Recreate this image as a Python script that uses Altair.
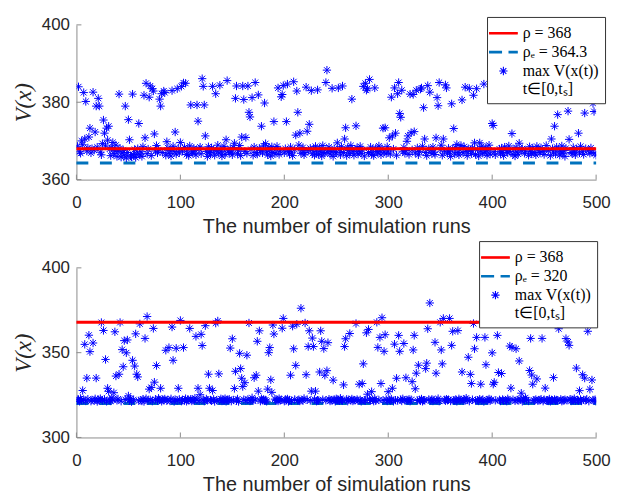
import altair as alt
import pandas as pd

runs = list(range(1, 501))
x_ticks = [0, 100, 200, 300, 400, 500]

top_rho = 368
top_rho_e = 364.3
top_y_ticks = [360, 380, 400]
bot_rho = 368
bot_rho_e = 320
bot_y_ticks = [300, 350, 400]

top_values = [
    368.6, 384.0, 367.2, 366.8, 370.0, 369.0, 382.5, 370.5, 380.2, 367.4, 368.2, 371.0, 373.3, 366.9, 368.0, 382.6, 367.6, 372.3, 379.0, 368.4,
    381.0, 379.0, 367.1, 366.4, 369.3, 375.4, 372.0, 368.7, 373.3, 370.2, 373.8, 367.9, 366.2, 368.3, 369.6, 366.7, 367.5, 368.9, 366.0, 367.3,
    382.1, 368.1, 365.8, 366.9, 367.6, 366.3, 379.0, 365.6, 367.0, 375.5, 370.3, 366.1, 365.9, 382.1, 366.5, 367.8, 365.7, 366.6, 368.0, 374.5,
    366.4, 367.2, 366.0, 368.5, 381.8, 370.8, 384.9, 366.7, 367.9, 381.3, 384.2, 366.2, 383.5, 382.9, 371.8, 367.4, 368.8, 366.9, 367.7, 380.8,
    379.0, 382.2, 367.0, 382.9, 382.5, 366.3, 369.8, 368.2, 366.8, 367.5, 366.1, 383.0, 368.6, 367.3, 372.3, 366.6, 383.5, 368.0, 366.9, 369.6,
    384.1, 367.4, 385.0, 368.3, 384.9, 366.5, 367.8, 366.2, 368.7, 379.3, 367.1, 366.8, 368.1, 367.6, 366.4, 379.3, 375.1, 367.9, 368.4, 366.7,
    386.1, 384.1, 379.3, 371.3, 367.3, 366.0, 368.5, 367.0, 366.6, 368.2, 384.1, 367.7, 366.3, 382.2, 367.5, 368.9, 366.8, 384.4, 367.2, 366.1,
    367.9, 368.6, 366.5, 370.3, 385.6, 367.4, 366.9, 368.0, 367.1, 366.4, 368.3, 369.4, 381.0, 384.2, 366.7, 367.6, 368.8, 366.2, 371.0, 384.2,
    380.7, 367.3, 370.9, 366.8, 384.2, 377.4, 376.2, 367.8, 381.2, 366.3, 368.4, 385.1, 367.0, 366.6, 381.9, 368.1, 367.5, 373.8, 366.9, 368.7,
    379.8, 369.3, 367.2, 366.4, 368.2, 367.7, 366.1, 368.5, 367.0, 375.0, 366.7, 367.9, 368.6, 383.7, 366.5, 367.4, 381.4, 382.0, 384.3, 366.9,
    368.0, 375.0, 384.7, 367.3, 366.6, 368.4, 367.1, 366.2, 385.3, 367.8, 371.5, 382.9, 377.4, 368.9, 372.0, 366.8, 367.6, 368.3, 366.4, 367.0,
    383.9, 372.5, 367.5, 374.3, 368.1, 383.0, 366.7, 367.9, 366.3, 368.6, 367.2, 383.2, 366.5, 368.2, 367.4, 366.1, 368.8, 367.0, 366.8, 385.1,
    388.3, 367.6, 368.4, 366.6, 367.3, 383.6, 366.0, 368.0, 367.1, 366.9, 369.5, 383.7, 367.8, 366.4, 368.5, 384.2, 367.0, 370.5, 373.4, 366.2,
    368.3, 367.5, 366.7, 368.8, 380.8, 367.2, 366.3, 367.9, 373.9, 368.2, 366.6, 367.4, 368.6, 366.8, 367.7, 384.1, 366.1, 384.9, 383.1, 383.5,
    367.0, 385.9, 368.4, 366.5, 367.8, 366.2, 383.7, 368.1, 367.3, 366.9, 368.7, 367.6, 366.4, 368.0, 373.3, 367.1, 373.4, 366.7, 368.5, 367.4,
    370.8, 366.6, 381.3, 371.3, 367.9, 383.7, 372.0, 366.3, 382.2, 385.1, 377.1, 376.1, 383.1, 367.2, 368.3, 366.8, 367.5, 369.9, 371.3, 366.5,
    382.1, 372.1, 367.7, 382.0, 372.4, 366.9, 383.1, 368.2, 366.4, 367.3, 383.4, 383.7, 368.6, 378.6, 370.5, 367.0, 366.2, 384.3, 368.0, 382.6,
    367.6, 366.7, 368.4, 367.1, 366.5, 370.8, 381.2, 379.1, 385.1, 367.8, 368.9, 366.3, 370.5, 367.4, 384.5, 383.7, 366.8, 368.1, 367.2, 366.0,
    379.6, 367.9, 373.2, 366.6, 368.3, 369.1, 367.0, 366.4, 367.7, 368.8, 380.6, 366.9, 368.5, 383.9, 367.3, 366.2, 368.0, 383.6, 367.5, 366.7,
    368.2, 381.8, 369.5, 366.5, 383.5, 367.8, 366.1, 369.5, 367.4, 368.6, 366.8, 384.7, 367.1, 368.3, 366.3, 367.6, 368.9, 366.6, 381.5, 374.5,
    374.0, 367.2, 366.4, 383.8, 382.8, 388.8, 367.9, 366.7, 368.1, 367.0, 366.2, 368.4, 382.5, 367.5, 366.9, 368.7, 367.3, 381.4, 371.9, 366.5,
    367.8, 366.1, 368.3, 367.1, 366.6, 369.4, 380.9, 367.6, 368.0, 380.9, 366.8, 367.4, 383.3, 383.8, 366.3, 368.5, 367.2, 366.7, 368.1, 381.7,
    367.0, 366.4, 368.6, 383.2, 367.7, 366.9, 368.2, 383.6, 367.3, 366.5, 384.1, 368.8, 383.6, 367.5, 382.8, 366.2, 370.5, 368.0, 367.1, 373.8,
    366.6, 368.4, 376.8, 367.8, 366.3, 367.2, 368.7, 366.8, 367.5, 366.0, 368.1, 382.5, 377.7, 370.4, 382.9, 367.0, 366.7, 368.3, 367.4, 366.4,
    367.9, 381.4, 372.0, 366.9, 368.6, 382.3, 367.2, 366.5, 377.2, 368.0, 383.3, 384.3, 367.6, 366.8, 368.2, 367.0, 379.7, 377.6, 366.9, 366.3,
]

bottom_values = [
    321.8, 322.4, 321.3, 323.0, 321.9, 327.7, 322.2, 354.9, 321.5, 335.0, 322.6, 360.3, 350.6, 321.4, 322.1, 355.7, 321.7, 322.8, 335.0, 321.2,
    322.3, 321.6, 322.9, 367.8, 321.8, 363.1, 322.5, 346.0, 321.3, 329.0, 327.2, 322.0, 321.5, 323.3, 322.2, 326.4, 362.3, 336.2, 321.9, 322.7,
    337.3, 367.8, 321.4, 351.8, 341.7, 357.1, 322.4, 349.9, 357.5, 324.5, 321.7, 322.8, 321.1, 345.5, 322.3, 342.1, 361.1, 337.3, 335.7, 321.6,
    367.0, 322.0, 321.5, 322.6, 321.2, 358.4, 322.9, 371.3, 321.8, 328.5, 322.2, 329.5, 321.4, 364.3, 332.6, 322.5, 342.4, 321.7, 323.1, 322.1,
    329.0, 321.3, 322.4, 321.9, 322.7, 351.4, 321.6, 322.2, 353.0, 321.5, 322.8, 365.1, 345.5, 321.2, 322.3, 352.6, 321.8, 329.0, 322.5, 369.0,
    321.4, 322.1, 353.0, 321.7, 322.9, 321.3, 322.4, 321.9, 364.3, 322.6, 321.5, 322.2, 321.8, 323.2, 359.6, 322.0, 329.0, 321.6, 325.2, 360.8,
    354.2, 322.3, 321.4, 365.9, 322.7, 321.9, 337.3, 329.0, 322.1, 321.6, 327.7, 322.5, 321.2, 367.4, 322.0, 368.7, 337.5, 321.8, 322.8, 321.5,
    322.4, 321.7, 322.9, 321.3, 322.2, 321.9, 322.6, 352.7, 321.4, 358.2, 322.1, 328.9, 339.0, 321.6, 322.7, 321.2, 349.6, 340.6, 334.9, 330.0,
    322.3, 332.3, 321.8, 348.5, 322.5, 367.5, 321.5, 322.0, 323.4, 321.7, 335.2, 322.2, 336.7, 356.7, 327.3, 362.9, 321.4, 322.8, 321.9, 322.4,
    321.6, 322.1, 321.3, 328.5, 350.0, 353.0, 334.0, 326.6, 366.3, 361.0, 322.6, 321.7, 322.3, 321.5, 322.9, 321.8, 322.2, 364.4, 370.2, 321.4,
    322.5, 321.9, 322.7, 321.2, 322.1, 336.7, 321.6, 365.6, 352.3, 322.4, 342.5, 366.8, 321.8, 322.3, 321.5, 376.2, 322.0, 321.7, 323.0, 367.5,
    337.0, 322.2, 353.6, 362.9, 321.8, 327.3, 358.6, 353.6, 322.5, 327.3, 321.4, 322.0, 321.7, 338.6, 362.9, 356.7, 322.3, 352.4, 336.7, 321.9,
    339.4, 355.9, 322.6, 321.5, 322.1, 321.8, 333.8, 322.4, 321.3, 322.8, 321.9, 322.2, 321.6, 323.1, 322.0, 321.7, 331.0, 353.6, 358.2, 322.5,
    321.4, 322.3, 361.3, 321.8, 322.7, 321.5, 322.1, 321.9, 367.2, 322.4, 321.6, 331.4, 322.2, 321.3, 331.8, 343.4, 322.0, 321.7, 361.7, 325.5,
    363.7, 322.5, 321.8, 327.0, 322.3, 321.4, 322.9, 321.6, 367.9, 353.1, 322.1, 359.0, 331.8, 370.6, 321.9, 350.8, 360.6, 322.4, 321.5, 327.0,
    322.2, 321.7, 322.6, 329.0, 321.3, 355.0, 322.0, 334.9, 321.8, 360.2, 350.8, 322.4, 321.5, 322.8, 355.4, 321.9, 335.2, 322.1, 321.6, 322.5,
    321.4, 322.3, 332.9, 351.6, 360.2, 328.7, 337.9, 321.8, 342.6, 322.2, 321.6, 322.7, 321.3, 322.0, 321.9, 340.6, 343.8, 364.1, 322.4, 379.3,
    321.7, 322.5, 321.5, 322.1, 356.1, 337.9, 321.8, 322.9, 321.4, 367.9, 351.6, 343.4, 370.2, 322.2, 321.6, 322.6, 321.9, 322.3, 370.2, 321.5,
    354.3, 362.6, 322.0, 321.7, 322.4, 321.3, 363.0, 322.8, 321.9, 322.2, 338.6, 321.6, 322.5, 321.8, 323.2, 322.1, 347.3, 321.4, 337.2, 331.8,
    322.3, 367.2, 352.3, 321.7, 359.0, 322.0, 321.5, 322.6, 331.4, 321.9, 322.4, 321.2, 359.0, 342.9, 322.1, 321.8, 322.7, 321.6, 322.3, 349.9,
    331.4, 332.5, 321.9, 370.6, 360.2, 338.3, 322.2, 321.5, 337.7, 322.4, 321.7, 369.3, 322.0, 321.4, 322.8, 321.9, 353.9, 329.1, 353.1, 322.3,
    369.3, 321.6, 352.3, 322.1, 321.8, 345.1, 322.5, 326.1, 321.3, 322.7, 321.9, 323.4, 322.2, 372.5, 321.5, 339.5, 358.4, 336.8, 331.4, 322.0,
    321.7, 322.4, 334.5, 321.6, 322.1, 321.9, 322.6, 358.4, 321.4, 322.3, 329.1, 321.8, 322.0, 321.5, 322.7, 321.3, 322.2, 321.9, 335.3, 322.4,
    321.6, 322.1, 321.8, 364.1, 368.8, 322.5, 321.4, 322.0, 321.7, 322.3, 358.3, 321.9, 356.3, 354.3, 322.6, 321.5, 322.2, 321.8, 322.9, 321.6,
    340.9, 322.0, 321.7, 327.6, 322.4, 321.5, 337.0, 322.2, 335.0, 321.9, 322.6, 362.6, 321.4, 328.4, 367.6, 333.9, 322.1, 321.8, 322.3, 321.2,
]

top_labels = ["\u03c1 = 368", "\u03c1\u2091 = 364.3", "max V(x(t))"]
bot_labels = ["\u03c1 = 368", "\u03c1\u2091 = 320", "max V(x(t))"]
series_colors = ["#ff0000", "#0072bd", "#0000ff"]
series_fills = ["#ff0000", "#0072bd", "transparent"]

# symbol unit: sqrt(361)/2 = 9.5 px per path unit
SOLID = "M-1.47,-0.08L1.47,-0.08L1.47,0.08L-1.47,0.08Z"
DASHED = ("M-1.47,-0.08L-0.2,-0.08L-0.2,0.08L-1.47,0.08Z"
          "M0.6,-0.08L1.47,-0.08L1.47,0.08L0.6,0.08Z")
STAR = ("M-0.44,0L0.44,0M0,-0.44L0,0.44"
        "M-0.31,-0.31L0.31,0.31M-0.31,0.31L0.31,-0.31")
SYM = 361

W = 524
AXIS_GRAY = "#8c8c8c"


def panel(values, rho, rho_e, y_ticks, h, labels, lx, ly, field):
    pts = pd.DataFrame({"run": runs, "v": values, field: labels[2]})
    lines = pd.DataFrame({"x0": [x_ticks[0]], "x1": [x_ticks[-1]],
                          "rho": [rho], "rho_e": [rho_e]})
    xt = pd.DataFrame({"t": x_ticks})
    yt = pd.DataFrame({"t": y_ticks})
    xs = alt.Scale(domain=[x_ticks[0], x_ticks[-1]], nice=False)
    ys = alt.Scale(domain=[y_ticks[0], y_ticks[-1]], nice=False)
    xaxis = alt.Axis(values=x_ticks, title="The number of simulation runs")
    yaxis = alt.Axis(values=y_ticks, title="V(x)")
    legend = alt.Legend(
        title=None, orient="none", legendX=lx, legendY=ly,
        fillColor="white", strokeColor="#333333", padding=6,
        symbolSize=SYM, symbolStrokeWidth=1.1,
        labelFont="Liberation Serif", labelFontSize=16, labelColor="black",
        labelLimit=0, rowPadding=-4, labelOffset=9,
        labelExpr=f"datum.label == '{labels[2]}' ? ['  {labels[2]}', 't\u2208[0,t\u209b]'] : datum.label",
    )
    red = alt.Chart(lines).mark_rule(color="#ff0000", strokeWidth=3).encode(
        x=alt.X("x0:Q", scale=xs, axis=xaxis), x2="x1:Q",
        y=alt.Y("rho:Q", scale=ys, axis=yaxis))
    dash = alt.Chart(lines).mark_rule(color="#0072bd", strokeWidth=3,
                                      strokeDash=[12, 11.7]).encode(
        x=alt.X("x0:Q", scale=xs, axis=xaxis), x2="x1:Q",
        y=alt.Y("rho_e:Q", scale=ys, axis=yaxis))
    points = alt.Chart(pts).mark_point(size=SYM, strokeWidth=1, opacity=1,
                                       clip=True).encode(
        x=alt.X("run:Q", scale=xs, axis=xaxis),
        y=alt.Y("v:Q", scale=ys, axis=yaxis),
        stroke=alt.Stroke(f"{field}:N", scale=alt.Scale(domain=labels, range=series_colors), legend=legend),
        fill=alt.Fill(f"{field}:N", scale=alt.Scale(domain=labels, range=series_fills), legend=legend),
        shape=alt.Shape(f"{field}:N", scale=alt.Scale(domain=labels, range=[SOLID, DASHED, STAR]), legend=legend),
    )
    xtick = alt.Chart(xt).mark_rule(color=AXIS_GRAY, strokeWidth=1).encode(
        x=alt.X("t:Q", scale=xs, axis=xaxis), y=alt.value(h), y2=alt.value(h - 5))
    ytick = alt.Chart(yt).mark_rule(color=AXIS_GRAY, strokeWidth=1).encode(
        y=alt.Y("t:Q", scale=ys, axis=yaxis), x=alt.value(0), x2=alt.value(5))
    return alt.layer(dash, points, red, xtick, ytick).properties(width=W, height=h)


top = panel(top_values, top_rho, top_rho_e, top_y_ticks, 156, top_labels, 414, -8, "s1")
bottom = panel(bottom_values, bot_rho, bot_rho_e, bot_y_ticks, 171, bot_labels, 406, -27, "s2")

chart = alt.vconcat(top, bottom, spacing=89, bounds="flush").resolve_scale(
    x="independent", y="independent", stroke="independent", fill="independent", shape="independent"
).properties(
    padding={"left": 4, "top": 6, "right": 0, "bottom": 0}
).configure_view(stroke=None).configure_axis(
    grid=False, ticks=False, domainColor=AXIS_GRAY, domainWidth=1,
    labelColor="#262626", labelFont="Liberation Sans", labelFontSize=17,
).configure_axisX(
    labelPadding=15, titleFont="Liberation Sans", titleFontSize=20,
    titleFontWeight="normal", titleColor="#262626", titlePadding=6,
    labelFlush=False,
).configure_axisY(
    labelPadding=7, titleFont="Liberation Serif", titleFontSize=23,
    titleFontStyle="italic", titleFontWeight="normal", titleColor="#262626",
    titlePadding=6,
)

chart.save("out.html", embed_options={"renderer": "svg", "actions": False})
